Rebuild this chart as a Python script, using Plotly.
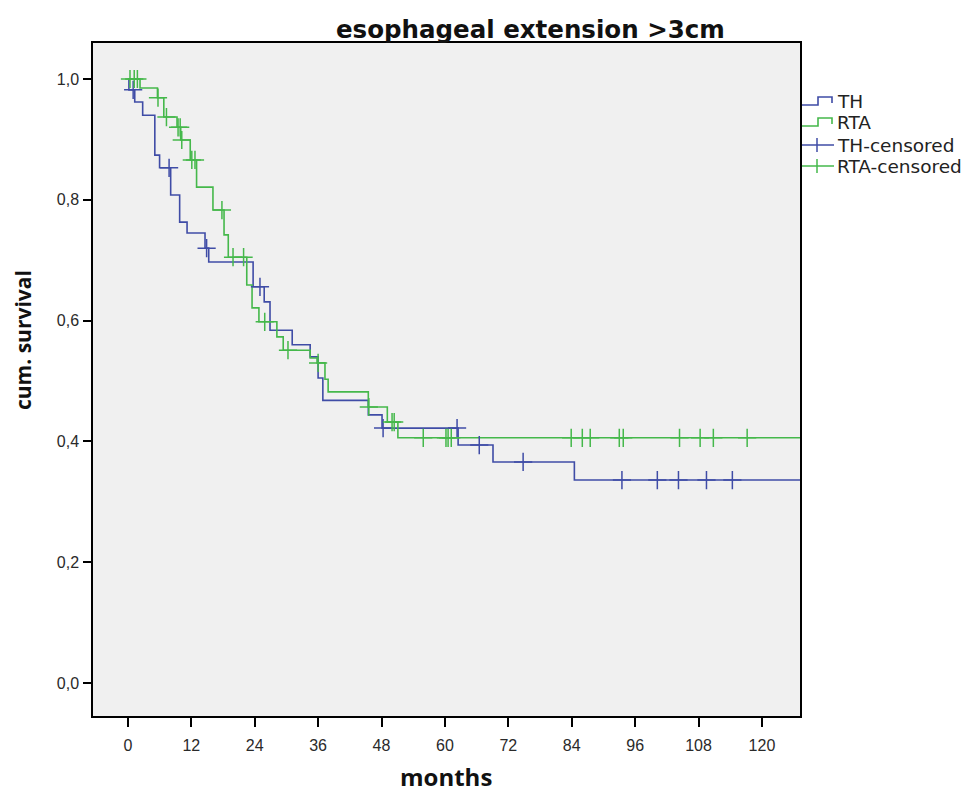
import plotly.graph_objects as go

# ---------------- data ----------------
x_ticks = [0, 12, 24, 36, 48, 60, 72, 84, 96, 108, 120]
y_ticks = [0.0, 0.2, 0.4, 0.6, 0.8, 1.0]
y_ticklabels = ["0,0", "0,2", "0,4", "0,6", "0,8", "1,0"]

th_times = [0, 0.2, 1.3, 2.8, 5.1, 6.0, 8.1, 9.8, 11.2, 14.6, 15.3, 23.7, 25.8, 26.9,
            31.1, 34.5, 36.0, 36.9, 45.5, 48.1, 62.5, 69.1, 84.5, 127.3]
th_surv = [1.0, 0.982, 0.962, 0.940, 0.874, 0.853, 0.808, 0.763, 0.745, 0.720, 0.697,
           0.656, 0.631, 0.584, 0.560, 0.540, 0.505, 0.468, 0.444, 0.422, 0.394, 0.366,
           0.336, 0.336]

rta_times = [0, 2.3, 5.6, 6.8, 9.3, 10.0, 11.8, 13.0, 16.1, 18.2, 19.0, 22.5, 23.5, 24.8,
             28.2, 29.4, 34.5, 35.8, 37.3, 37.9, 45.5, 49.1, 51.1, 127.3]
rta_surv = [1.0, 0.985, 0.969, 0.937, 0.920, 0.899, 0.866, 0.821, 0.783, 0.742, 0.705,
            0.659, 0.621, 0.598, 0.573, 0.551, 0.538, 0.530, 0.503, 0.482, 0.457, 0.432,
            0.406, 0.406]

th_cens_t = [1.0, 7.8, 14.9, 25.0, 48.3, 62.3, 66.5, 74.8, 93.5, 100.2, 104.2, 109.5, 114.4]
th_cens_s = [0.982, 0.853, 0.720, 0.656, 0.422, 0.422, 0.394, 0.366, 0.336, 0.336, 0.336,
             0.336, 0.336]

rta_cens_t = [0.4, 1.2, 1.8, 5.7, 7.3, 9.5, 9.9, 10.2, 12.1, 12.7, 17.8, 19.9, 21.9, 25.9,
              30.3, 36.0, 45.6, 50.0, 50.4, 55.9, 60.2, 60.6, 61.2, 83.9, 86.0, 87.5,
              93.0, 93.75, 104.4, 108.3, 110.8, 117.2]
rta_cens_s = [1.0, 1.0, 1.0, 0.969, 0.937, 0.920, 0.920, 0.899, 0.866, 0.866, 0.783, 0.705,
              0.705, 0.598, 0.551, 0.530, 0.457, 0.432, 0.432, 0.406, 0.406, 0.406, 0.406,
              0.406, 0.406, 0.406, 0.406, 0.406, 0.406, 0.406, 0.406, 0.406]

series_names = ["TH", "RTA", "TH-censored", "RTA-censored"]
title_text = "esophageal extension >3cm"
x_title = "months"
y_title = "cum. survival"

# ---------------- styling ----------------
BLUE = "#3f4ca6"
GREEN = "#45b84b"
W, H = 975, 796
L, R, T, B = 93, 800, 43, 716  # plot area in pixels


def px(x):
    return (x - L) / (R - L)


def py(y):
    return (B - y) / (B - T)


fig = go.Figure()
fig.add_trace(go.Scatter(x=th_times, y=th_surv, mode="lines", line_shape="hv",
                         line=dict(color=BLUE, width=1.6), name=series_names[0]))
fig.add_trace(go.Scatter(x=rta_times, y=rta_surv, mode="lines", line_shape="hv",
                         line=dict(color=GREEN, width=1.6), name=series_names[1]))
fig.add_trace(go.Scatter(x=th_cens_t, y=th_cens_s, mode="markers",
                         marker=dict(symbol="cross-thin", size=13,
                                     line=dict(color=BLUE, width=1.5)),
                         name=series_names[2]))
fig.add_trace(go.Scatter(x=rta_cens_t, y=rta_cens_s, mode="markers",
                         marker=dict(symbol="cross-thin", size=13,
                                     line=dict(color=GREEN, width=1.5)),
                         name=series_names[3]))

tick_font = dict(family="Liberation Sans, Arial, sans-serif", size=16, color="#2a2a2a")
fig.update_xaxes(range=[-6.6, 127.2], tickvals=x_ticks, ticktext=[str(v) for v in x_ticks],
                 showgrid=False, zeroline=False, showline=True, mirror=True,
                 linecolor="black", linewidth=1.5, ticks="outside", ticklen=9,
                 tickcolor="black", tickwidth=1.5, tickfont=tick_font,
                 ticklabelstandoff=5)
fig.update_yaxes(range=[-0.0546, 1.0596], tickvals=y_ticks, ticktext=y_ticklabels,
                 showgrid=False, zeroline=False, showline=True, mirror=True,
                 linecolor="black", linewidth=1.5, ticks="outside", ticklen=8,
                 tickcolor="black", tickwidth=1.5, tickfont=tick_font,
                 ticklabelstandoff=1)

shapes = []
annotations = []

# custom legend (SPSS style)
leg_y = [101, 122, 145, 166]
leg_colors = [BLUE, GREEN, BLUE, GREEN]
for i, (name, yc, col) in enumerate(zip(series_names, leg_y, leg_colors)):
    if i < 2:
        path = (f"M {px(802)},{py(yc + 4)} L {px(818)},{py(yc + 4)} L {px(818)},{py(yc - 4)} "
                f"L {px(832)},{py(yc - 4)} L {px(832)},{py(yc + 2)}")
        shapes.append(dict(type="path", xref="paper", yref="paper", path=path,
                           line=dict(color=col, width=1.6)))
    else:
        shapes.append(dict(type="line", xref="paper", yref="paper", x0=px(802), x1=px(834),
                           y0=py(yc), y1=py(yc), line=dict(color=col, width=1.5)))
        shapes.append(dict(type="line", xref="paper", yref="paper", x0=px(817), x1=px(817),
                           y0=py(yc - 7), y1=py(yc + 7), line=dict(color=col, width=1.5)))
    annotations.append(dict(text=name, xref="paper", yref="paper", x=px(835), y=py(yc),
                            xanchor="left", yanchor="middle", showarrow=False,
                            font=dict(family="DejaVu Sans, sans-serif", size=18.5,
                                      color="#222222")))

# title and axis titles
annotations.append(dict(text=f"<b>{title_text}</b>", xref="paper", yref="paper",
                        x=px(530), y=py(29), xanchor="center", yanchor="middle",
                        showarrow=False,
                        font=dict(family="DejaVu Sans, sans-serif", size=24.5, color="#111111")))
annotations.append(dict(text=f"<b>{x_title}</b>", xref="paper", yref="paper",
                        x=px(446), y=py(777), xanchor="center", yanchor="middle",
                        showarrow=False,
                        font=dict(family="Open Sans, sans-serif", size=24, color="#111111")))
annotations.append(dict(text=f"<b>{y_title}</b>", xref="paper", yref="paper",
                        x=px(23), y=py(340), xanchor="center", yanchor="middle",
                        showarrow=False, textangle=-90,
                        font=dict(family="Open Sans, sans-serif", size=21, color="#111111")))

fig.update_layout(width=W, height=H, margin=dict(l=L, r=W - R, t=T, b=H - B),
                  plot_bgcolor="#f0f0f0", paper_bgcolor="white", showlegend=False,
                  shapes=shapes, annotations=annotations)

fig.write_html("out.html")
